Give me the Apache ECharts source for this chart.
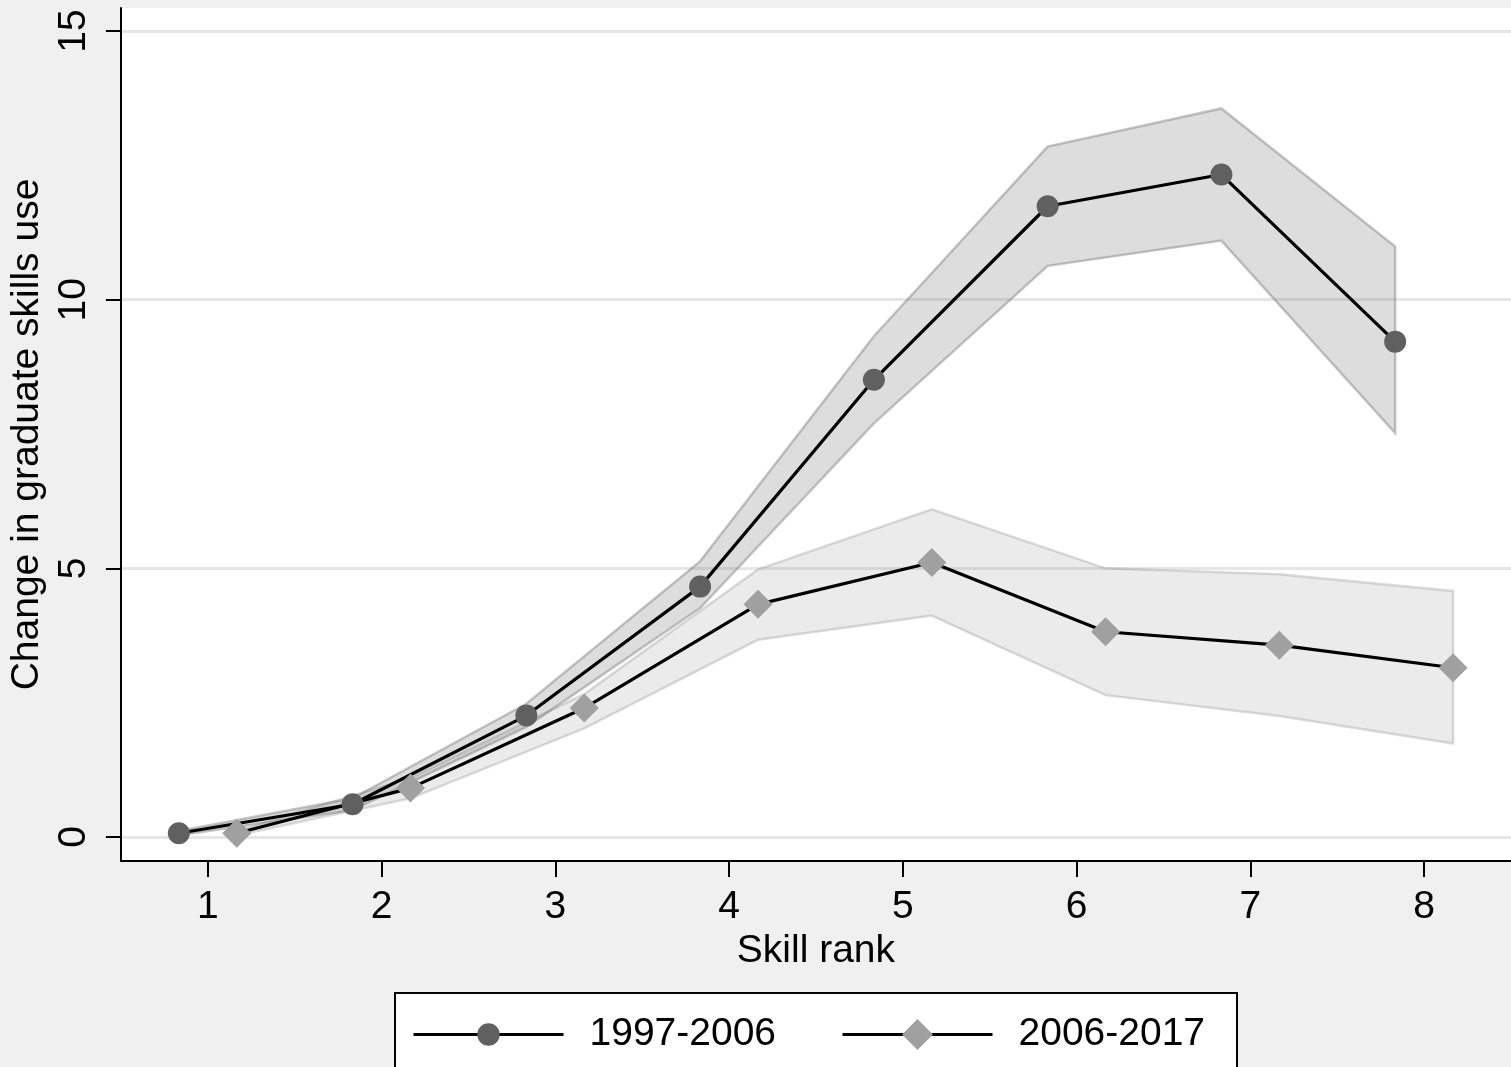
<!DOCTYPE html>
<html lang="en">
<head>
    <meta charset="UTF-8">
    <script src="https://cdn.jsdelivr.net/npm/echarts@6/dist/echarts.min.js"></script>
    <title>Graduate skills use</title>
    <style>
        html, body { margin: 0; padding: 0; background: #f0f0f0; }
    </style>
</head>
<body>
<div id="main" style="width: 1511px;height:1067px;"></div>

<script type="text/javascript">

// skill ranks and the two periods
var ranks = [1, 2, 3, 4, 5, 6, 7, 8];
var shift = 1 / 6;   // points are dodged either side of the rank
var yTicks = [0, 5, 10, 15];

var mean1997 = [0.07, 0.61, 2.26, 4.66, 8.51, 11.74, 12.33, 9.22];
var lo1997   = [0.03, 0.50, 2.05, 4.26, 7.70, 10.63, 11.10, 7.52];
var hi1997   = [0.11, 0.72, 2.48, 5.13, 9.32, 12.85, 13.56, 10.99];

var mean2006 = [0.07, 0.91, 2.40, 4.33, 5.11, 3.82, 3.57, 3.15];
var lo2006   = [0.03, 0.72, 2.02, 3.67, 4.12, 2.64, 2.25, 1.74];
var hi2006   = [0.11, 1.10, 2.66, 4.98, 6.10, 5.00, 4.89, 4.58];

var FONT = 'Liberation Sans, Arial, Helvetica, sans-serif';

function xs(d) {
    return ranks.map(function (r) { return r + d; });
}

function pairs(x, y) {
    return x.map(function (v, i) { return [v, y[i]]; });
}

// confidence band drawn as one closed polygon
function band(name, x, lo, hi, fill, stroke) {
    return {
        name: name,
        type: 'custom',
        z: 1,
        silent: true,
        data: x.map(function (v, i) { return [v, lo[i], hi[i]]; }),
        encode: { x: 0, y: [1, 2] },
        renderItem: function (params, api) {
            if (params.dataIndex !== 0) return null;
            var pts = [];
            for (var i = 0; i < x.length; i++) pts.push(api.coord([x[i], hi[i]]));
            for (var j = x.length - 1; j >= 0; j--) pts.push(api.coord([x[j], lo[j]]));
            return {
                type: 'polygon',
                shape: { points: pts },
                style: { fill: fill, stroke: stroke, lineWidth: 2.5, lineJoin: 'miter' }
            };
        }
    };
}

var myChart = echarts.init(document.getElementById('main'));

var x1 = xs(-shift);
var x2 = xs(shift);

var option = {
    backgroundColor: '#f0f0f0',
    animation: false,
    textStyle: { fontFamily: FONT },
    grid: {
        left: 119, right: 0, top: 8, bottom: 206,
        show: true, backgroundColor: '#ffffff', borderWidth: 0
    },
    legend: {
        data: [
            { name: '1997-2006' },
            // diamond icon drawn a bit larger, like the plot marker
            { name: '2006-2017', itemStyle: { borderColor: '#a0a0a0', borderWidth: 6 } }
        ],
        left: 395,
        top: 993,
        padding: [22, 32, 22, 17],
        itemWidth: 150,
        itemHeight: 28,
        itemGap: 65,
        backgroundColor: '#ffffff',
        borderColor: '#000000',
        borderWidth: 2,
        borderRadius: 0,
        selectedMode: false,
        lineStyle: { color: '#000', width: 3 },
        textStyle: {
            fontFamily: FONT,
            fontSize: 39,
            color: '#000',
            padding: [0, 0, 0, 21]
        }
    },
    xAxis: {
        type: 'value',
        min: 0.5,
        max: 8.5,
        name: 'Skill rank',
        nameLocation: 'middle',
        nameGap: 66,
        nameTextStyle: { fontSize: 39, color: '#000', fontFamily: FONT },
        axisLine: { onZero: false, lineStyle: { color: '#000', width: 2 } },
        axisTick: { customValues: ranks, length: 16, lineStyle: { color: '#000', width: 2 } },
        axisLabel: { customValues: ranks, fontSize: 39, color: '#000', margin: 27, fontFamily: FONT },
        splitLine: { show: false }
    },
    yAxis: {
        type: 'value',
        min: -0.447,
        max: 15.43,
        name: 'Change in graduate skills use',
        nameLocation: 'middle',
        nameRotate: 90,
        nameGap: 68,
        nameTextStyle: { fontSize: 39, color: '#000', fontFamily: FONT },
        axisLine: { show: true, onZero: false, lineStyle: { color: '#000', width: 2 } },
        axisTick: { show: true, customValues: yTicks, length: 15, lineStyle: { color: '#000', width: 2 } },
        axisLabel: { customValues: yTicks, rotate: 90, fontSize: 39, color: '#000', margin: 27, fontFamily: FONT },
        splitLine: { show: true, lineStyle: { color: '#e6e6e6', width: 3 } }
    },
    series: [
        band('ci2006', x2, lo2006, hi2006, 'rgba(120,120,120,0.15)', 'rgba(120,120,120,0.25)'),
        band('ci1997', x1, lo1997, hi1997, 'rgba(120,120,120,0.25)', 'rgba(120,120,120,0.42)'),
        {
            name: '1997-2006',
            type: 'line',
            z: 3,
            data: pairs(x1, mean1997),
            symbol: 'circle',
            symbolSize: 22,
            showSymbol: true,
            itemStyle: { color: '#606060' },
            lineStyle: { color: '#000', width: 3.2 }
        },
        {
            name: '2006-2017',
            type: 'line',
            z: 3,
            data: pairs(x2, mean2006),
            symbol: 'diamond',
            symbolSize: 29,
            showSymbol: true,
            itemStyle: { color: '#a0a0a0' },
            lineStyle: { color: '#000', width: 3.2 }
        }
    ]
};

myChart.setOption(option);
</script>
</body>
</html>
